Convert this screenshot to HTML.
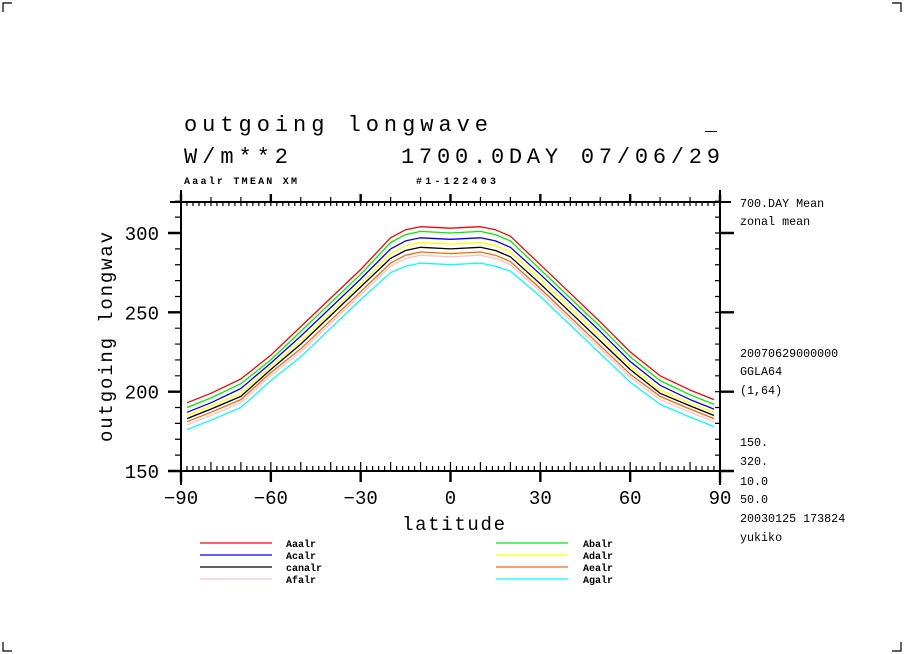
<!DOCTYPE html>
<html><head><meta charset="utf-8"><style>
html,body{margin:0;padding:0;background:#fff;}
svg{display:block;font-family:"Liberation Mono","DejaVu Sans Mono",monospace;}
</style></head><body>
<svg id="chart" width="904" height="654" viewBox="0 0 904 654" xmlns="http://www.w3.org/2000/svg">
<rect width="904" height="654" fill="#fff"/>
<g stroke="#000" stroke-width="1.2" fill="none">
<path d="M3,12 V3 H12"/><path d="M892,3 H901 V12"/><path d="M3,642 V651 H12"/><path d="M892,651 H901 V642"/>
</g>
<g fill="#000">
<text x="184" y="131" font-size="22" textLength="304" lengthAdjust="spacing">outgoing longwave</text>
<text x="705" y="130" font-size="20">_</text>
<text x="184" y="163" font-size="22" textLength="104" lengthAdjust="spacing">W/m**2</text>
<text x="401" y="163" font-size="22" textLength="319" lengthAdjust="spacing">1700.0DAY 07/06/29</text>
<text x="184" y="184" font-size="10" font-weight="bold" textLength="113" lengthAdjust="spacing">Aaalr TMEAN XM</text>
<text x="416" y="184" font-size="10" font-weight="bold" textLength="80" lengthAdjust="spacing">#1-122403</text>
</g>
<g fill="#000" font-size="11.7">
<text x="740" y="207">700.DAY Mean</text>
<text x="740" y="225">zonal mean</text>
<text x="740" y="357">20070629000000</text>
<text x="740" y="375">GGLA64</text>
<text x="740" y="394">(1,64)</text>
<text x="740" y="446">150.</text>
<text x="740" y="465">320.</text>
<text x="740" y="485">10.0</text>
<text x="740" y="503">50.0</text>
<text x="740" y="522">20030125 173824</text>
<text x="740" y="541">yukiko</text>
</g>
<g id="axes"></g>
<g id="series"></g>
<g id="legend"></g>
</svg>
<script>
const lats = [-88,-80,-70,-60,-50,-40,-30,-20,-15,-10,0,10,15,20,30,40,50,60,70,80,88];
const xTicks = [-90,-60,-30,0,30,60,90];
const yTicks = [150,200,250,300];
const seriesNames = ["Aaalr","Abalr","Acalr","Adalr","canalr","Aealr","Afalr","Agalr"];
const seriesColors = ["#ff0000","#00ee00","#0000ff","#ffff00","#000000","#ff6600","#ffc0cb","#00ffff"];
const vAaalr = [193,199,208,223,241,259,277,297,302,304,303,304,302,298,280,262,244,225,210,201,195];
const vAbalr = [190,196,205,220,238,256,274,294,299,301,300,301,299,295,277,259,241,222,207,198,192];
const vAcalr = [187,193,202,218,235,253,271,290,295,297,296,297,295,291,274,256,238,219,204,195,189];
const vAdalr = [185,191,199,216,232,250,268,287,292,294,293,294,292,288,271,253,235,216,201,193,187];
const vCanalr = [183,189,197,214,230,248,266,284,289,291,290,291,289,285,268,250,232,214,199,191,185];
const vAealr = [181,187,195,212,227,245,263,281,286,288,287,288,286,282,265,247,229,211,197,189,183];
const vAfalr = [179,185,193,210,225,243,261,279,284,286,285,286,284,280,263,245,227,209,195,187,181];
const vAgalr = [176,182,190,207,222,240,258,275,279,281,280,281,279,276,260,242,224,206,192,184,178];
const seriesValues = [vAaalr,vAbalr,vAcalr,vAdalr,vCanalr,vAealr,vAfalr,vAgalr];
const drawOrder = [7,6,5,4,3,2,1,0];

const NS="http://www.w3.org/2000/svg";
const X0=181,X1=720,Y0=471,Y300=233;
function xs(v){return X0+(v+90)/180*(X1-X0);}
function ys(v){return Y0-(v-150)/150*(Y0-Y300);}
function mk(tag,attrs,parent){const e=document.createElementNS(NS,tag);for(const k in attrs)e.setAttribute(k,attrs[k]);parent.appendChild(e);return e;}

const ax=document.getElementById('axes');
const L=mk('path',{stroke:'#000','stroke-width':2,fill:'none',d:`M168,${Y0}H731 M170,202H731 M${X0},190V485 M${X1},190V485`},ax);


let d='';
for(let v=-90;v<=90;v+=2){const x=xs(v);d+=`M${x},${Y0}V${Y0-5}M${x},202V206`;}
for(let v=-90;v<=90;v+=10){const x=xs(v);d+=`M${x},${Y0}V${Y0-9}M${x},202V197`;}
for(let v=150;v<=320;v+=10){const y=ys(v);d+=`M${X0},${y}H175M${X1},${y}H715`;}
const tk=mk('path',{stroke:'#000','stroke-width':1.2,fill:'none',d:d},ax);


let dm='';
xTicks.forEach(v=>{const x=xs(v);dm+=`M${x},${Y0}V${Y0+11}M${x},202V194`;});
yTicks.forEach(v=>{const y=ys(v);dm+=`M${X0},${y}H168M${X1},${y}H734`;});
const mj=mk('path',{stroke:'#000','stroke-width':2.4,fill:'none',d:dm},ax);


xTicks.forEach(v=>{
  const t=mk('text',{x:xs(v),y:504,'font-size':19,'text-anchor':'middle',fill:'#000'},ax);
  t.textContent=(v<0?'\u2212'+(-v):String(v));
  
  
});
yTicks.forEach(v=>{
  const t=mk('text',{x:159,y:ys(v)+7,'font-size':19,'text-anchor':'end',fill:'#000'},ax);
  t.textContent=String(v);
  
  
});
const xt=mk('text',{x:402,y:530,'font-size':19,fill:'#000',textLength:103,lengthAdjust:'spacing'},ax);
xt.textContent='latitude';


const yt=mk('text',{x:0,y:0,'font-size':19,fill:'#000','text-anchor':'middle',transform:'translate(112,337) rotate(-90)',textLength:210,lengthAdjust:'spacing'},ax);
yt.textContent='outgoing longwav';



const sg=document.getElementById('series');
drawOrder.forEach(i=>{
  const pts=lats.map((la,j)=>xs(la).toFixed(1)+','+ys(seriesValues[i][j]).toFixed(1)).join(' ');
  const p=mk('polyline',{points:pts,fill:'none',stroke:seriesColors[i],'stroke-width':1.3,'stroke-linejoin':'round'},sg);
  
  
});

const lg=document.getElementById('legend');
const legendLeft=[0,2,4,6], legendRight=[1,3,5,7];
[[legendLeft,200,286],[legendRight,496,583]].forEach(([idx,lx,tx])=>{
  idx.forEach((i,r)=>{
    const y=543+r*12;
    const g=mk('g',{},lg);
    
    
    mk('line',{x1:lx,x2:lx+72,y1:y,y2:y,stroke:seriesColors[i],'stroke-width':1.2},g);
    const t=mk('text',{x:tx,y:y+4,'font-size':10,'font-weight':'bold',fill:'#000'},g);
    t.textContent=seriesNames[i];
  });
});
</script>
</body></html>
